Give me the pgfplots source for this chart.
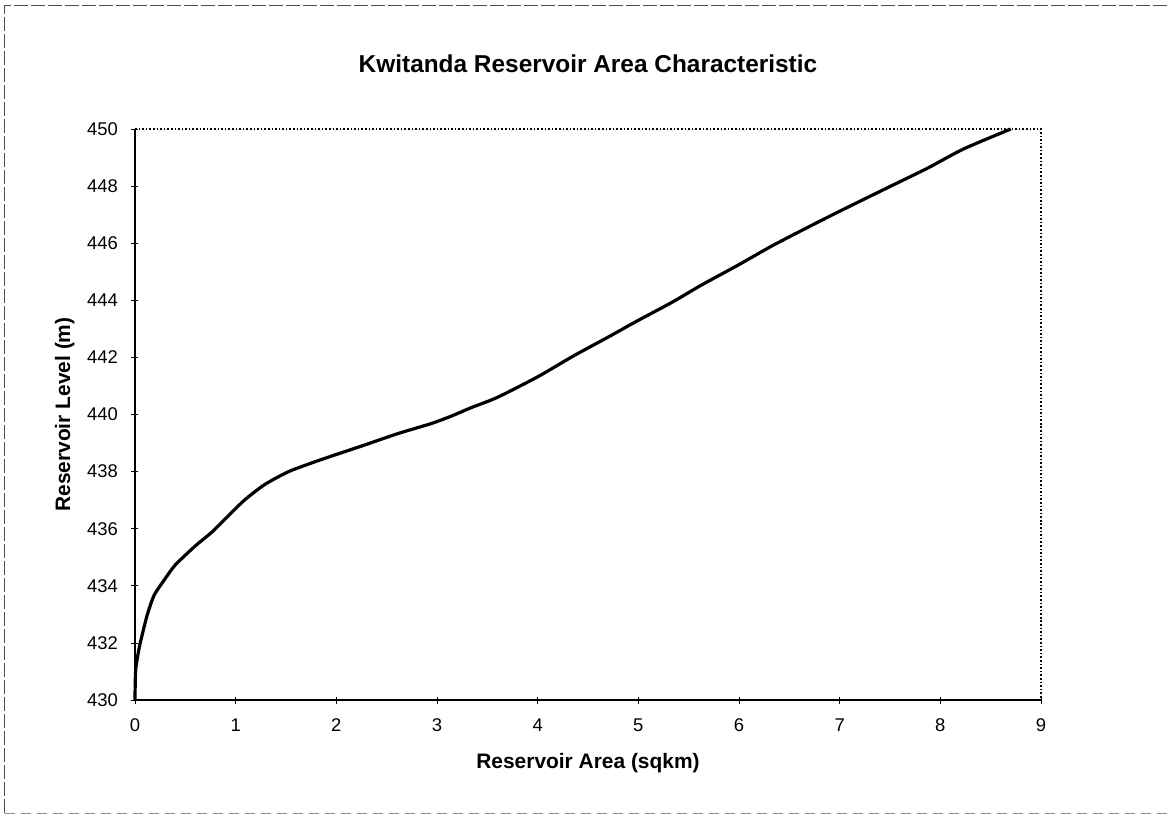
\documentclass[border=0pt]{standalone}
\usepackage{pgfplots}
\pgfplotsset{compat=1.18}
\usepackage{fontspec}
\setmainfont{Liberation Sans}
\begin{document}
\begin{tikzpicture}
\useasboundingbox (-135bp,-115bp) rectangle (1033bp,700bp);
\draw[line width=1bp, black!70, dash pattern=on 14bp off 3bp] (-130bp,-113bp) -- (-130bp,694bp) -- (1033bp,694bp);
\draw[line width=1bp, black!45, dash pattern=on 10bp off 6bp] (-130bp,-113bp) -- (1033bp,-113bp);
\begin{axis}[
  at={(0,0)}, anchor=south west,
  scale only axis, width=906bp, height=571bp,
  xmin=0, xmax=9, ymin=430, ymax=450,
  xtick={0,1,...,9}, ytick={430,432,...,450},
  axis line style={draw=none},
  tick align=center, xtick pos=bottom, ytick pos=left,
  major tick length=7bp,
  tick style={black, line width=0.8bp},
  /pgf/number format/assume math mode=true,
  /pgf/number format/1000 sep={},
  tick label style={font=\fontsize{18.5}{22}\selectfont},
  xticklabel style={yshift=-12bp},
  yticklabel style={xshift=-10bp},
  title={Kwitanda Reservoir Area Characteristic},
  title style={font=\fontsize{24.5}{29}\selectfont\bfseries, yshift=47bp},
  xlabel={Reservoir Area (sqkm)},
  ylabel={Reservoir Level (m)},
  label style={font=\fontsize{21}{25}\selectfont\bfseries},
  xlabel style={yshift=-14bp},
  ylabel style={yshift=6bp},
  clip=false,
]
\draw[line width=1.6bp] (axis cs:0,450) -- (axis cs:0,430) -- (axis cs:9,430);
\draw[line width=1.6bp, dotted] (axis cs:0,450) -- (axis cs:9,450) -- (axis cs:9,430);
\addplot[black, line width=3.2bp, line join=round, smooth, tension=0.4] coordinates {
(0,430) (0.007,431.06) (0.046,431.9) (0.12,432.96) (0.19,433.67) (0.29,434.2)
(0.40,434.73) (0.60,435.4) (0.77,435.9) (0.96,436.57) (1.10,437.04) (1.29,437.55)
(1.52,437.99) (1.76,438.31) (2.00,438.6) (2.28,438.93) (2.61,439.33) (2.94,439.68)
(3.14,439.94) (3.34,440.24) (3.60,440.6) (4.00,441.32) (4.36,442.06)
(4.71,442.73) (4.99,443.28) (5.34,443.94) (5.62,444.52) (6.00,445.25) (6.33,445.91)
(6.68,446.55) (7.00,447.12) (7.52,448.02) (7.88,448.64) (8.23,449.3) (8.70,450)
};
\end{axis}
\end{tikzpicture}
\end{document}
